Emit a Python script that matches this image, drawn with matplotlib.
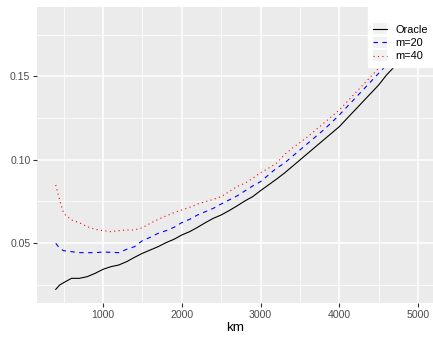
import matplotlib
matplotlib.use("Agg")
import matplotlib.pyplot as plt
from matplotlib.ticker import MultipleLocator
from matplotlib.legend_handler import HandlerLine2D
from matplotlib.patches import Rectangle

# km grid and error curves
km = [400, 450, 500, 600, 700, 800, 900, 1000, 1100, 1200, 1300, 1400, 1500,
      1600, 1700, 1800, 1900, 2000, 2100, 2200, 2300, 2400, 2500, 2600, 2700,
      2800, 2900, 3000, 3100, 3200, 3300, 3400, 3500, 3600, 3700, 3800, 3900,
      4000, 4100, 4200, 4300, 4400, 4500, 4600, 4700, 4800, 4900, 4950]
oracle = [0.0222, 0.0248, 0.0262, 0.0288, 0.0288, 0.0298, 0.0318, 0.0342,
          0.0358, 0.0368, 0.0388, 0.0414, 0.0438, 0.0458, 0.0478, 0.0502,
          0.0522, 0.0548, 0.0568, 0.0594, 0.0622, 0.0648, 0.0668, 0.0694,
          0.0722, 0.0752, 0.0778, 0.0814, 0.0848, 0.0882, 0.0918, 0.0958,
          0.0998, 0.1038, 0.1078, 0.1118, 0.1158, 0.1198, 0.1248, 0.1298,
          0.1348, 0.1398, 0.1448, 0.1508, 0.1558, 0.1615, 0.1675, 0.1705]
m20 = [0.0498, 0.0468, 0.0454, 0.0448, 0.0442, 0.0442, 0.0442, 0.0446,
       0.0444, 0.0442, 0.0462, 0.0478, 0.0514, 0.0534, 0.0558, 0.0574,
       0.0594, 0.0622, 0.0642, 0.0668, 0.0688, 0.0708, 0.0734, 0.0758,
       0.0782, 0.0812, 0.0842, 0.0868, 0.0908, 0.0948, 0.0978, 0.1018,
       0.1058, 0.1098, 0.1138, 0.1178, 0.1222, 0.1268, 0.1318, 0.1368,
       0.1418, 0.1468, 0.1518, 0.1568, 0.1620, 0.1675, 0.1730, 0.1760]
m40 = [0.0848, 0.0758, 0.0678, 0.0638, 0.0622, 0.0598, 0.0582, 0.0574,
       0.0568, 0.0574, 0.0578, 0.0578, 0.0592, 0.0618, 0.0642, 0.0662,
       0.0682, 0.0698, 0.0714, 0.0734, 0.0748, 0.0762, 0.0778, 0.0808,
       0.0838, 0.0858, 0.0888, 0.0922, 0.0948, 0.0978, 0.1028, 0.1068,
       0.1102, 0.1138, 0.1178, 0.1218, 0.1258, 0.1298, 0.1348, 0.1398,
       0.1448, 0.1498, 0.1548, 0.1600, 0.1655, 0.1710, 0.1770, 0.1800]


class KeyHandler(HandlerLine2D):
    # ggplot-like key: light grey box behind the line sample
    def create_artists(self, legend, orig_handle, xdescent, ydescent,
                       width, height, fontsize, trans):
        kh = height + 0.3 * fontsize
        bg = Rectangle((-xdescent, -ydescent - (kh - height) / 2), width, kh,
                       facecolor="#F2F2F2", edgecolor="none", transform=trans)
        arts = super().create_artists(legend, orig_handle, xdescent, ydescent,
                                      width, height, fontsize, trans)
        return [bg] + list(arts)


plt.rcParams["font.family"] = ["Liberation Sans", "DejaVu Sans"]

W, H = 433, 339
fig = plt.figure(figsize=(W / 100, H / 100), dpi=100)
ax = fig.add_axes([37 / W, 36 / H, (W - 37) / W, 296 / H])
ax.set_facecolor("#EBEBEB")
for s in ax.spines.values():
    s.set_visible(False)

ax.plot(km, oracle, color="black", lw=0.8, label="Oracle")
ax.plot(km, m20, color="blue", lw=0.8, ls=(0, (4, 4)), label="m=20")
ax.plot(km, m40, color="red", lw=0.8, ls=(0, (1, 3)), label="m=40")

ax.set_xlim(162, 5190)
ax.set_ylim(0.014, 0.1916)
ax.xaxis.set_major_locator(MultipleLocator(1000))
ax.xaxis.set_minor_locator(MultipleLocator(500))
ax.yaxis.set_major_locator(MultipleLocator(0.05))
ax.yaxis.set_minor_locator(MultipleLocator(0.025))
ax.set_yticks([0.05, 0.10, 0.15])
ax.set_yticklabels(["0.05", "0.10", "0.15"])
ax.grid(True, which="major", color="white", lw=1.1)
ax.grid(True, which="minor", color="white", lw=0.55)
ax.set_axisbelow(True)
ax.tick_params(which="major", length=2.75, width=0.8, color="#333333",
               labelcolor="#4D4D4D", labelsize=7.6, pad=2)
ax.tick_params(which="minor", length=0)
ax.set_xlabel("km", fontsize=9.7, labelpad=2)

leg = ax.legend(loc="upper right", bbox_to_anchor=(1, 1), borderaxespad=0,
                fontsize=7.9, frameon=True, fancybox=False, title=" ",
                title_fontsize=6.5, handlelength=1.3, handletextpad=0.7,
                labelspacing=0.3, borderpad=0.5,
                handler_map={plt.Line2D: KeyHandler()})
leg.get_frame().set_facecolor("white")
leg.get_frame().set_edgecolor("white")
leg.get_frame().set_alpha(1)

fig.savefig("out.png", dpi=100)
